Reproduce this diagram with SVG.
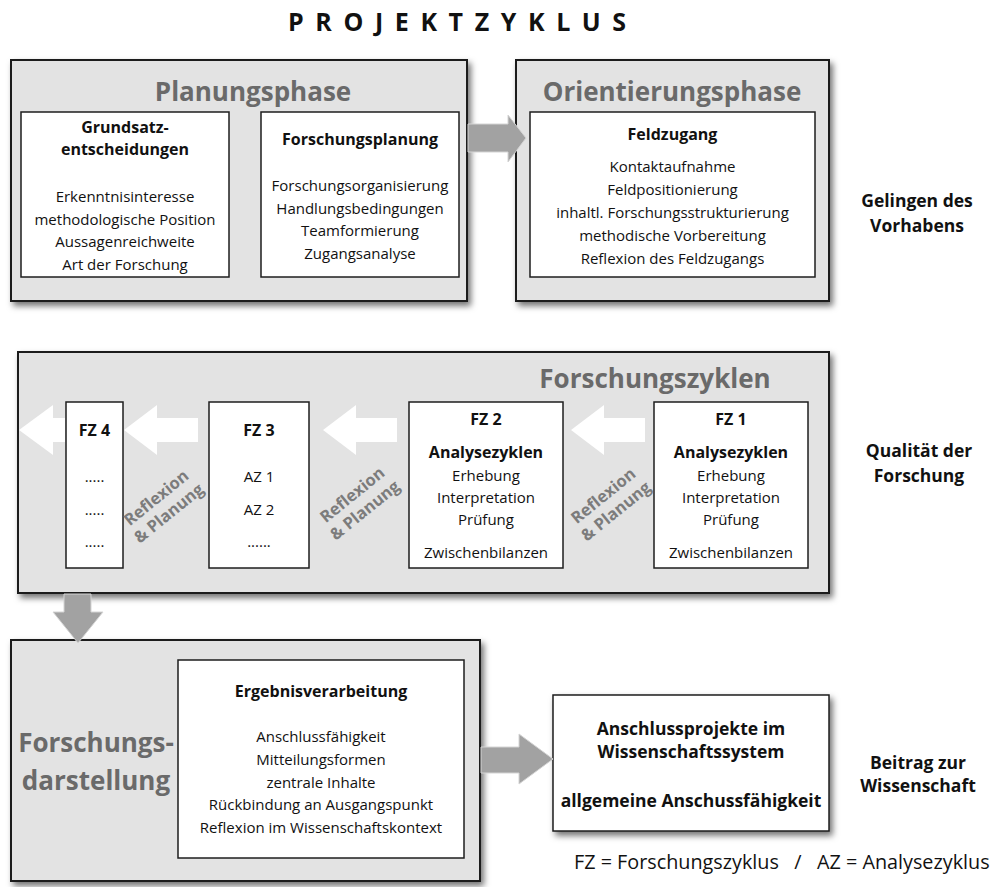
<svg xmlns="http://www.w3.org/2000/svg" width="991" height="887" viewBox="0 0 991 887">
<defs>
<filter id="sh" x="-10%" y="-10%" width="125%" height="130%">
<feDropShadow dx="3" dy="4" stdDeviation="3" flood-color="#000" flood-opacity="0.55"/>
</filter>
<style>
.outer{fill:#e3e3e3;stroke:#1e1e1e;stroke-width:2;}
.inner{fill:#fff;stroke:#1e1e1e;stroke-width:1.5;}
.t{font-family:"Open Sans","Liberation Sans",sans-serif;font-size:15px;fill:#111;text-anchor:middle;}
.b{font-family:"Open Sans","Liberation Sans",sans-serif;font-size:16px;font-weight:bold;fill:#111;text-anchor:middle;}
.h{font-family:"Open Sans","Liberation Sans",sans-serif;font-size:26px;font-weight:bold;fill:#6a6a6a;text-anchor:middle;}
.side{font-family:"Open Sans","Liberation Sans",sans-serif;font-size:17.5px;font-weight:bold;fill:#111;text-anchor:middle;}
.rp{font-family:"Open Sans","Liberation Sans",sans-serif;font-size:16.5px;font-weight:bold;fill:#7c7c7c;text-anchor:middle;}
.garrow{fill:#a2a2a2;stroke:#d4d4d4;stroke-width:1;}
.warrow{fill:#fff;}
</style>
</defs>
<rect width="991" height="887" fill="#fff"/>

<text x="288" y="31" font-family="Open Sans, Liberation Sans, sans-serif" font-size="25" font-weight="bold" fill="#111" letter-spacing="11.6">PROJEKTZYKLUS</text>

<g id="planungsphase">
<rect class="outer" x="11" y="60" width="456" height="241" filter="url(#sh)"/>
<text class="h" x="253" y="101">Planungsphase</text>
</g>
<g id="grundsatz">
<rect class="inner" x="21" y="112" width="208" height="165"/>
<text class="b" x="125" y="133">Grundsatz-</text>
<text class="b" x="125" y="155">entscheidungen</text>
<text class="t" x="125" y="202">Erkenntnisinteresse</text>
<text class="t" x="125" y="224.5">methodologische Position</text>
<text class="t" x="125" y="247">Aussagenreichweite</text>
<text class="t" x="125" y="269.5">Art der Forschung</text>
</g>
<g id="forschungsplanung">
<rect class="inner" x="261" y="112" width="198" height="165"/>
<text class="b" x="360" y="145">Forschungsplanung</text>
<text class="t" x="360" y="191">Forschungsorganisierung</text>
<text class="t" x="360" y="213.5">Handlungsbedingungen</text>
<text class="t" x="360" y="236">Teamformierung</text>
<text class="t" x="360" y="258.5">Zugangsanalyse</text>
</g>

<g id="orientierungsphase">
<rect class="outer" x="516" y="60" width="313" height="241" filter="url(#sh)"/>
<text class="h" x="672" y="101">Orientierungsphase</text>
</g>
<g id="feldzugang">
<rect class="inner" x="530" y="112" width="285" height="165"/>
<text class="b" x="672.5" y="140">Feldzugang</text>
<text class="t" x="672.5" y="172">Kontaktaufnahme</text>
<text class="t" x="672.5" y="195">Feldpositionierung</text>
<text class="t" x="672.5" y="218">inhaltl. Forschungsstrukturierung</text>
<text class="t" x="672.5" y="241">methodische Vorbereitung</text>
<text class="t" x="672.5" y="264">Reflexion des Feldzugangs</text>
</g>

<g id="label-gelingen">
<text class="side" x="917" y="207">Gelingen des</text>
<text class="side" x="917" y="232">Vorhabens</text>
</g>

<g id="forschungszyklen">
<rect class="outer" x="18" y="352" width="811" height="241" filter="url(#sh)"/>
<text class="h" x="655" y="388">Forschungszyklen</text>
</g>

<g id="fz4">
<rect class="inner" x="66" y="402" width="57" height="166"/>
<text class="b" x="94.5" y="436">FZ 4</text>
<text class="t" x="94.5" y="482">.....</text>
<text class="t" x="94.5" y="515">.....</text>
<text class="t" x="94.5" y="547">.....</text>
</g>
<g id="fz3">
<rect class="inner" x="209" y="402" width="100" height="166"/>
<text class="b" x="259" y="436">FZ 3</text>
<text class="t" x="259" y="482">AZ 1</text>
<text class="t" x="259" y="515">AZ 2</text>
<text class="t" x="259" y="547">......</text>
</g>
<g id="fz2">
<rect class="inner" x="409" y="402" width="154" height="166"/>
<text class="b" x="486" y="425">FZ 2</text>
<text class="b" x="486" y="458">Analysezyklen</text>
<text class="t" x="486" y="481">Erhebung</text>
<text class="t" x="486" y="503">Interpretation</text>
<text class="t" x="486" y="525">Prüfung</text>
<text class="t" x="486" y="558">Zwischenbilanzen</text>
</g>
<g id="fz1">
<rect class="inner" x="654" y="402" width="154" height="166"/>
<text class="b" x="731" y="425">FZ 1</text>
<text class="b" x="731" y="458">Analysezyklen</text>
<text class="t" x="731" y="481">Erhebung</text>
<text class="t" x="731" y="503">Interpretation</text>
<text class="t" x="731" y="525">Prüfung</text>
<text class="t" x="731" y="558">Zwischenbilanzen</text>
</g>

<g id="label-qualitaet">
<text class="side" x="919" y="457">Qualität der</text>
<text class="side" x="919" y="482">Forschung</text>
</g>

<g id="forschungsdarstellung">
<rect class="outer" x="11" y="640" width="469" height="241" filter="url(#sh)"/>
<text class="h" x="96" y="752">Forschungs-</text>
<text class="h" x="96" y="790">darstellung</text>
</g>
<g id="ergebnisverarbeitung">
<rect class="inner" x="178" y="660" width="286" height="198"/>
<text class="b" x="321" y="697">Ergebnisverarbeitung</text>
<text class="t" x="321" y="742">Anschlussfähigkeit</text>
<text class="t" x="321" y="765">Mitteilungsformen</text>
<text class="t" x="321" y="788">zentrale Inhalte</text>
<text class="t" x="321" y="810">Rückbindung an Ausgangspunkt</text>
<text class="t" x="321" y="833">Reflexion im Wissenschaftskontext</text>
</g>

<g id="anschlussprojekte">
<rect class="inner" x="553" y="695" width="276" height="136" stroke-width="2" filter="url(#sh)"/>
<text class="side" x="691" y="735">Anschlussprojekte im</text>
<text class="side" x="691" y="758">Wissenschaftssystem</text>
<text class="side" x="691" y="807">allgemeine Anschussfähigkeit</text>
</g>

<g id="label-beitrag">
<text class="side" x="918" y="769">Beitrag zur</text>
<text class="side" x="918" y="792">Wissenschaft</text>
</g>

<g id="connectors">
<polygon class="warrow" points="19,430 53,405 53,418 65,418 65,442 53,442 53,455"/>
<polygon class="warrow" points="124,430 157,405 157,418 198,418 198,442 157,442 157,455"/>
<polygon class="warrow" points="323,430 356,405 356,418 397,418 397,442 356,442 356,455"/>
<polygon class="warrow" points="571,430 604,405 604,418 645,418 645,442 604,442 604,455"/>
<polygon class="garrow" points="468,124 508,124 508,115 526,138 508,162 508,152 468,152"/>
<polygon class="garrow" points="64,594 91,594 91,612 103,612 78,643 53,612 64,612"/>
<polygon class="garrow" points="481,747 519,747 519,734 553,759 519,784 519,773 481,773"/>
<g transform="translate(163,506) rotate(-39)">
<text class="rp" x="0" y="-5">Reflexion</text>
<text class="rp" x="0" y="15">&amp; Planung</text>
</g>
<g transform="translate(359,503) rotate(-39)">
<text class="rp" x="0" y="-5">Reflexion</text>
<text class="rp" x="0" y="15">&amp; Planung</text>
</g>
<g transform="translate(610,504) rotate(-39)">
<text class="rp" x="0" y="-5">Reflexion</text>
<text class="rp" x="0" y="15">&amp; Planung</text>
</g>
</g>

<text x="574" y="869" font-family="Open Sans, Liberation Sans, sans-serif" font-size="19.8" fill="#111" xml:space="preserve">FZ = Forschungszyklus   /   AZ = Analysezyklus</text>
</svg>
